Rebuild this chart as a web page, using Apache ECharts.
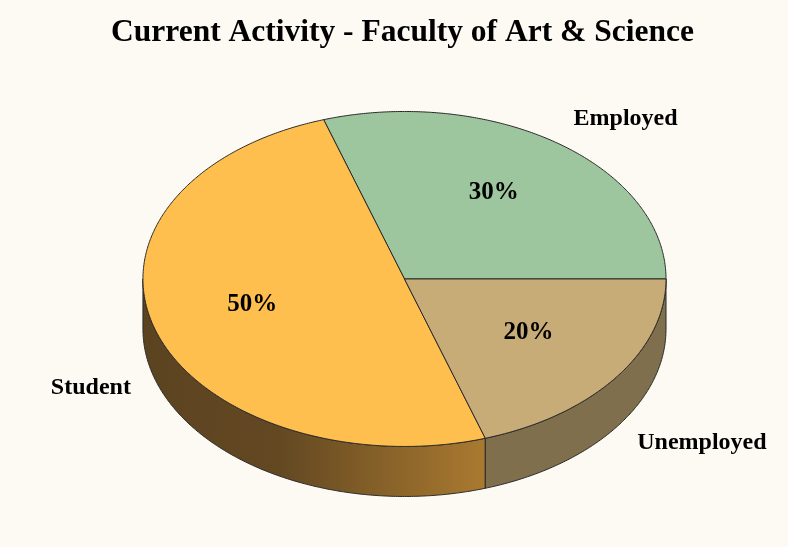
<!DOCTYPE html>
<html><head><meta charset="utf-8">
<script src="https://cdn.jsdelivr.net/npm/echarts@6/dist/echarts.min.js"></script>
<style>html,body{margin:0;padding:0;background:#FDFAF4}#c{width:788px;height:547px}</style>
</head><body><div id="c"></div>
<script>
const titleText = 'Current Activity - Faculty of Art & Science';
const categories = ['Employed', 'Student', 'Unemployed'];
const values = [30, 50, 20];
const topColors = ['#9DC59E', '#FFBF4F', '#C8AC77'];
const sideColors = [
  '#6E8A6F',
  new echarts.graphic.LinearGradient(0, 0, 1, 0, [
    { offset: 0, color: '#5C4320' }, { offset: 0.4, color: '#634822' }, { offset: 1, color: '#AA7A30' }
  ]),
  '#7F6F4C'
];

const total = values.reduce((a, b) => a + b, 0);
const FONT = '"Liberation Serif", "Times New Roman", serif';

function geom(api) {
  const W = api.getWidth(), H = api.getHeight();
  return { cx: W * 0.5133, cy: H * 0.51, rx: W * 0.3319, ry: H * 0.3062, d: 50 };
}
function angles(i) {
  let s = 0;
  for (let k = 0; k < i; k++) s += values[k];
  return [s / total * 2 * Math.PI, (s + values[i]) / total * 2 * Math.PI];
}
function pt(g, a, dy) {
  return [g.cx + g.rx * Math.cos(a), g.cy - g.ry * Math.sin(a) + (dy || 0)];
}
function arc(g, a0, a1, dy) {
  const n = Math.max(2, Math.ceil(Math.abs(a1 - a0) / (Math.PI / 360)));
  const out = [];
  for (let j = 0; j <= n; j++) out.push(pt(g, a0 + (a1 - a0) * j / n, dy));
  return out;
}

function renderSide(params, api) {
  const i = params.dataIndex;
  const g = geom(api);
  const [a0, a1] = angles(i);
  const lo = Math.max(a0, Math.PI), hi = Math.min(a1, 2 * Math.PI);
  if (lo >= hi) return { type: 'group', children: [] };
  const pts = arc(g, lo, hi, 0).concat(arc(g, hi, lo, g.d));
  return {
    type: 'polygon',
    shape: { points: pts },
    style: { fill: sideColors[i], stroke: '#2a2a2a', lineWidth: 1 }
  };
}

function renderTop(params, api) {
  const i = params.dataIndex;
  const g = geom(api);
  const [a0, a1] = angles(i);
  const pts = [[g.cx, g.cy]].concat(arc(g, a0, a1, 0));
  const mid = (a0 + a1) / 2;
  const pct = Math.round(values[i] / total * 100) + '%';
  const ip = [g.cx + g.rx * 0.6 * Math.cos(mid) - 3, g.cy - g.ry * 0.6 * Math.sin(mid) - 5];
  const below = Math.sin(mid) < 0;
  const right = Math.cos(mid) >= 0;
  const op = [g.cx + g.rx * 1.1 * Math.cos(mid), g.cy - g.ry * 1.18 * Math.sin(mid) + (below ? g.d - 2 : 0)];
  return {
    type: 'group',
    children: [
      { type: 'polygon', shape: { points: pts }, style: { fill: topColors[i], stroke: '#2a2a2a', lineWidth: 1 } },
      { type: 'text', x: ip[0], y: ip[1], z2: 20,
        style: { text: pct, fill: '#000', font: 'bold 25px ' + FONT, align: 'center', verticalAlign: 'middle' } },
      { type: 'text', x: op[0], y: op[1], z2: 20,
        style: { text: categories[i], fill: '#000', font: 'bold 24px ' + FONT, align: right ? 'left' : 'right', verticalAlign: 'middle' } }
    ]
  };
}

const chart = echarts.init(document.getElementById('c'));
const seriesData = values.map((v, i) => ({ name: categories[i], value: v }));
chart.setOption({
  backgroundColor: '#FDFAF4',
  animation: false,
  title: {
    text: titleText, left: 106, top: 12,
    textStyle: { fontFamily: FONT, fontWeight: 'bold', fontSize: 31.5, color: '#000' }
  },
  series: [
    { type: 'custom', coordinateSystem: 'none', z: 1, renderItem: renderSide, data: seriesData },
    { type: 'custom', coordinateSystem: 'none', z: 2, renderItem: renderTop, data: seriesData }
  ]
});
</script></body></html>
